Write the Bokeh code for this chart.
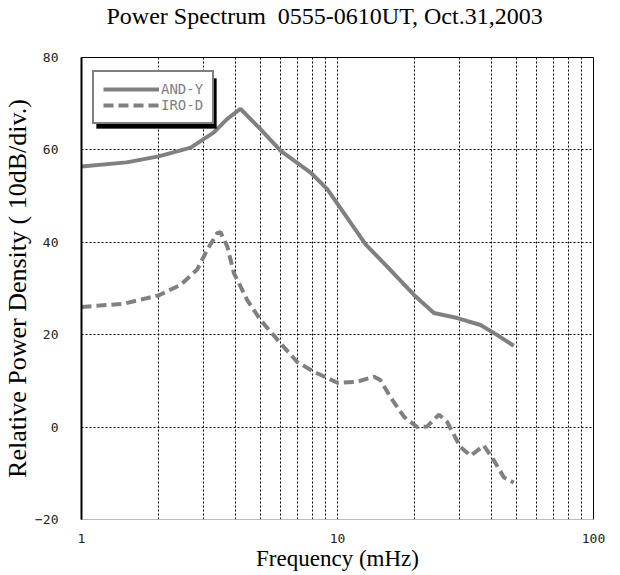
from bokeh.plotting import figure
from bokeh.models import FixedTicker, Legend, LegendItem, BoxAnnotation, ColumnDataSource, Title
from bokeh.embed import file_html
from bokeh.resources import INLINE

# ---- data ----
and_freq = [1.0, 1.5, 2.0, 2.67, 3.29, 3.71, 4.18, 5.0, 6.0, 7.85, 9.12, 10.0, 12.9, 15.6, 19.9, 23.8, 29.4, 36.2, 42.1, 48.8]
and_pow = [56.4, 57.3, 58.6, 60.5, 63.8, 66.7, 68.9, 64.5, 59.8, 55.1, 51.5, 48.3, 39.5, 34.8, 28.6, 24.7, 23.6, 22.1, 19.9, 17.6]

iro_freq = [1.0, 1.46, 2.0, 2.44, 2.83, 3.10, 3.39, 3.49, 3.71, 3.94, 4.44, 5.0, 6.0, 6.96, 8.08, 10.0, 11.9, 13.9, 14.7,
            16.1, 18.2, 20.5, 22.4, 24.9, 26.8, 30.2, 33.1, 37.3, 40.8, 44.7, 48.8]
iro_pow = [26.0, 26.7, 28.5, 30.8, 34.1, 38.4, 42.0, 42.2, 39.1, 33.3, 27.5, 23.2, 18.1, 14.1, 12.0, 9.6, 9.8, 10.9, 10.2,
           6.5, 2.2, 0.0, 0.15, 2.7, 1.1, -4.3, -6.2, -4.0, -7.2, -10.9, -12.0]

x_major = [1, 10, 100]
x_major_labels = ["1", "10", "100"]
x_minor = [2, 3, 4, 5, 6, 7, 8, 9, 20, 30, 40, 50, 60, 70, 80, 90]
y_major = [-20, 0, 20, 40, 60, 80]

series_names = ["AND-Y", "IRO-D"]
title_text = "Power Spectrum\u00a0 0555-0610UT, Oct.31,2003"
x_label = "Frequency (mHz)"
y_label = "Relative Power Density ( 10dB/div.)"

GRAY = "#808080"
SERIF = "Liberation Serif"
MONO = "DejaVu Sans Mono"
FW, FH = 512, 462

p = figure(frame_width=FW, frame_height=FH, x_axis_type="log", x_range=(1, 100), y_range=(-20, 80),
           output_backend="svg", toolbar_location=None,
           min_border_left=81, min_border_right=27, min_border_top=56, min_border_bottom=50)

# real title (outermost panel)
p.title.text = title_text
p.title.text_font = SERIF
p.title.text_font_size = "24px"
p.title.text_font_style = "normal"
p.title.align = "left"
p.title.offset = 25
p.title.standoff = 0
p.title.vertical_align = "bottom"
p.title.text_color = "black"

# empty spacer panel between the frame and the title
spacer = Title(text="\u00a0", text_font_size="16px", standoff=10)
p.add_layout(spacer, "above")

p.background_fill_color = "white"
p.border_fill_color = "white"
p.outline_line_color = "black"
p.outline_line_width = 1

# axes
p.xaxis.ticker = FixedTicker(ticks=x_major, minor_ticks=x_minor)
p.xaxis.major_label_overrides = {t: s for t, s in zip(x_major, x_major_labels)}
p.yaxis.ticker = FixedTicker(ticks=y_major)
for ax in (p.xaxis, p.yaxis):
    ax.major_tick_in = 0
    ax.major_tick_out = 0
    ax.minor_tick_in = 0
    ax.minor_tick_out = 0
    ax.major_label_text_font = MONO
    ax.major_label_text_font_size = "13px"
    ax.major_label_text_color = "#222222"
    ax.axis_label_text_font = SERIF
    ax.axis_label_text_font_style = "normal"
    ax.axis_label_text_color = "black"
p.xaxis.axis_label = x_label
p.yaxis.axis_label = y_label
p.xaxis.axis_label_text_font_size = "23px"
p.yaxis.axis_label_text_font_size = "26px"
p.xaxis.major_label_standoff = 14
p.yaxis.major_label_standoff = 23
p.xaxis.axis_label_standoff = 0
p.yaxis.axis_label_standoff = 0
p.xaxis.axis_line_color = "#bbbbbb"
p.yaxis.axis_line_color = "black"
p.yaxis.axis_line_width = 2

# grids
p.xgrid.grid_line_color = "black"
p.xgrid.grid_line_dash = "2 2"
p.xgrid.minor_grid_line_color = "black"
p.xgrid.minor_grid_line_dash = "2 2"
p.ygrid.grid_line_color = "black"
p.ygrid.grid_line_dash = "2 2"

src_and = ColumnDataSource(dict(f=and_freq, v=and_pow))
src_iro = ColumnDataSource(dict(f=iro_freq, v=iro_pow))
r1 = p.line("f", "v", source=src_and, line_color=GRAY, line_width=4)
r2 = p.line("f", "v", source=src_iro, line_color=GRAY, line_width=4, line_dash="10 5")

# legend placement (frame-relative screen px, from bottom-left) and its drop shadow
LX, LY, LW, LH = 11, 395, 120, 50
shadow = BoxAnnotation(left=LX + 4, right=LX + 4 + LW, bottom=LY - 4, top=LY - 4 + LH,
                       left_units="screen", right_units="screen", top_units="screen", bottom_units="screen",
                       fill_color="black", fill_alpha=1, line_color="black", level="overlay")
p.add_layout(shadow)

legend = Legend(items=[LegendItem(label=series_names[0], renderers=[r1]),
                       LegendItem(label=series_names[1], renderers=[r2])],
                location=(LX, LY), orientation="vertical",
                border_line_color="black", border_line_width=2, background_fill_color="white",
                background_fill_alpha=1, label_text_font=MONO, label_text_font_size="14px",
                label_text_color=GRAY, glyph_width=56, glyph_height=16, label_height=16,
                spacing=0, padding=9, margin=0, label_standoff=2)
p.add_layout(legend)

open("out.html", "w").write(file_html(p, INLINE))
